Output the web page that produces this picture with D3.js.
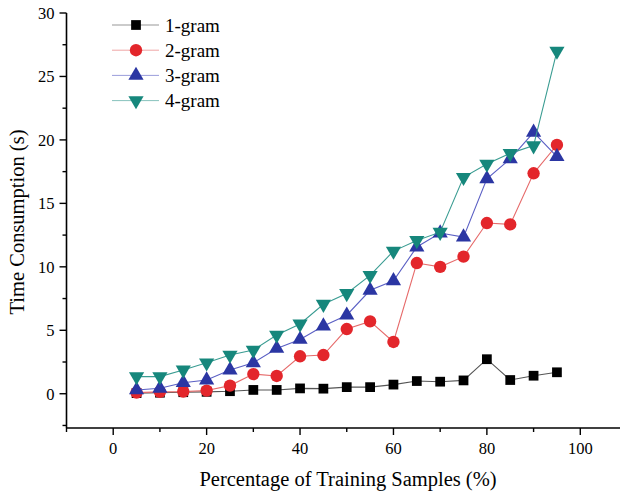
<!DOCTYPE html>
<html lang="en">
<head>
  <meta charset="UTF-8" />
  <title>Time Consumption</title>
  <script src="https://d3js.org/d3.v7.min.js"></script>
  <style>
    body { margin: 0; background: #fff; }
    svg { display: block; font-family: 'Liberation Serif', 'Times New Roman', serif; }
  </style>
</head>
<body>
  <svg width="620" height="496"></svg>
  <script>
    const samples = [5, 10, 15, 20, 25, 30, 35, 40, 45, 50, 55, 60, 65, 70, 75, 80, 85, 90, 95];
    const gram1 = [0.05, 0.08, 0.12, 0.15, 0.2, 0.3, 0.3, 0.42, 0.4, 0.52, 0.52, 0.72, 1.0, 0.95, 1.05, 2.72, 1.08, 1.42, 1.69];
    const gram2 = [0.09, 0.15, 0.17, 0.25, 0.64, 1.55, 1.4, 2.95, 3.05, 5.1, 5.7, 4.08, 10.3, 10.0, 10.8, 13.45, 13.34, 17.37, 19.6];
    const gram3 = [0.3, 0.43, 0.87, 1.08, 1.87, 2.44, 3.57, 4.28, 5.33, 6.19, 8.15, 8.9, 11.56, 12.66, 12.34, 16.93, 18.5, 20.6, 18.68];
    const gram4 = [1.35, 1.35, 1.87, 2.44, 3.05, 3.44, 4.62, 5.5, 7.05, 7.9, 9.33, 11.24, 12.08, 12.73, 17.05, 18.1, 18.94, 19.55, 27.0];
    const seriesNames = ["1-gram", "2-gram", "3-gram", "4-gram"];
    const xTicks = [0, 20, 40, 60, 80, 100];
    const yTicks = [0, 5, 10, 15, 20, 25, 30];

    const series = [
      { name: seriesNames[0], values: gram1, marker: "square", fill: "#000000", line: "#555555" },
      { name: seriesNames[1], values: gram2, marker: "circle", fill: "#e3262b", line: "#e66a6a" },
      { name: seriesNames[2], values: gram3, marker: "triangle", fill: "#2b36a3", line: "#5a5fc4" },
      { name: seriesNames[3], values: gram4, marker: "down", fill: "#16877c", line: "#3a9c92" }
    ];

    const svg = d3.select("svg");
    const x = d3.scaleLinear().domain([-10, 110]).range([66.5, 627]);
    const y = d3.scaleLinear().domain([-2.7, 30]).range([428, 13]);

    // axes
    const xAxis = svg.append("g").attr("transform", `translate(0,${y(-2.7)})`);
    xAxis.append("line").attr("x1", x(-10)).attr("x2", 620).attr("stroke", "#000").attr("stroke-width", 1.6);
    d3.range(-10, 111, 10).forEach(v => {
      const major = v % 20 === 0;
      xAxis.append("line").attr("x1", x(v)).attr("x2", x(v)).attr("y1", 0).attr("y2", major ? 7 : 4)
        .attr("stroke", "#000").attr("stroke-width", 1.4);
    });
    xTicks.forEach(v => {
      xAxis.append("text").attr("x", x(v)).attr("y", 26).attr("text-anchor", "middle")
        .attr("font-size", 16.5).text(v);
    });

    const yAxis = svg.append("g").attr("transform", `translate(${x(-10)},0)`);
    yAxis.append("line").attr("y1", y(-2.7)).attr("y2", y(30)).attr("stroke", "#000").attr("stroke-width", 1.6);
    d3.range(-2.5, 30.1, 2.5).forEach(v => {
      const major = v % 5 === 0;
      yAxis.append("line").attr("y1", y(v)).attr("y2", y(v)).attr("x1", 0).attr("x2", major ? -7 : -4)
        .attr("stroke", "#000").attr("stroke-width", 1.4);
    });
    yTicks.forEach(v => {
      yAxis.append("text").attr("x", -12).attr("y", y(v)).attr("dy", "0.35em").attr("text-anchor", "end")
        .attr("font-size", 16.5).text(v);
    });

    svg.append("text").attr("x", 348).attr("y", 486).attr("text-anchor", "middle")
      .attr("font-size", 20.5).text("Percentage of Training Samples (%)");
    svg.append("text").attr("transform", "translate(24,222) rotate(-90)").attr("text-anchor", "middle")
      .attr("font-size", 20.5).text("Time Consumption (s)");

    const symbolFor = m => {
      if (m === "square") return d3.symbol().type(d3.symbolSquare).size(95)();
      if (m === "circle") return d3.symbol().type(d3.symbolCircle).size(120)();
      return d3.symbol().type(d3.symbolTriangle).size(100)();
    };

    const line = d3.line().x((d, i) => x(samples[i])).y(d => y(d));

    series.forEach(s => {
      const g = svg.append("g");
      g.append("path").datum(s.values).attr("d", line).attr("fill", "none")
        .attr("stroke", s.line).attr("stroke-width", 1.1);
      g.selectAll("path.m").data(s.values).join("path").attr("class", "m")
        .attr("d", symbolFor(s.marker))
        .attr("transform", (d, i) => `translate(${x(samples[i])},${y(d)})` + (s.marker === "down" ? " rotate(180)" : ""))
        .attr("fill", s.fill);
    });

    // legend
    const legend = svg.append("g");
    series.forEach((s, i) => {
      const ly = 25 + i * 25.2;
      legend.append("line").attr("x1", 112).attr("x2", 159).attr("y1", ly).attr("y2", ly)
        .attr("stroke", s.line).attr("stroke-width", 1).attr("opacity", 0.6);
      legend.append("path").attr("d", symbolFor(s.marker))
        .attr("transform", `translate(136,${ly})` + (s.marker === "down" ? " rotate(180)" : ""))
        .attr("fill", s.fill);
      legend.append("text").attr("x", 165).attr("y", ly).attr("dy", "0.35em")
        .attr("font-size", 19).text(s.name);
    });
  </script>
</body>
</html>
